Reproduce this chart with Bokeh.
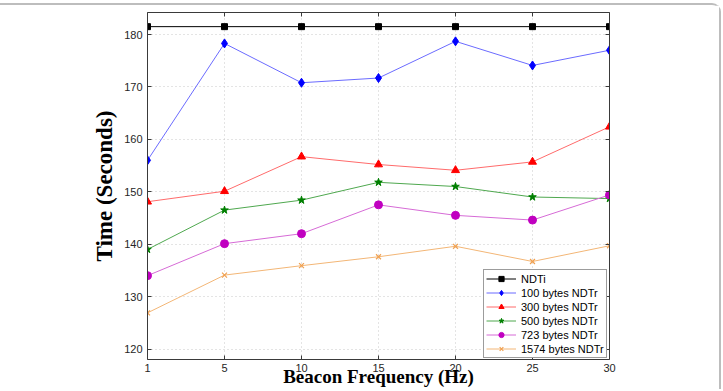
from bokeh.plotting import figure
from bokeh.models import (Range1d, FixedTicker, LinearAxis, Legend, LegendItem,
                          CustomLabelingPolicy)
from bokeh.embed import file_html
from bokeh.resources import INLINE

# Beacon frequencies (Hz), shown as evenly spaced categories
freq_labels = ["1", "5", "10", "15", "20", "25", "30"]

# Completion time (seconds) per scheme
ndti = [181.5, 181.5, 181.5, 181.5, 181.5, 181.5, 181.5]
ndtr_100 = [156.0, 178.3, 170.8, 171.7, 178.7, 174.1, 177.0]
ndtr_300 = [148.1, 150.1, 156.7, 155.2, 154.1, 155.7, 162.4]
ndtr_500 = [139.0, 146.5, 148.4, 151.8, 151.0, 149.0, 148.7]
ndtr_723 = [134.0, 140.1, 142.0, 147.5, 145.5, 144.6, 149.4]
ndtr_1574 = [126.9, 134.1, 135.9, 137.6, 139.6, 136.7, 139.7]

y_ticks = [120, 130, 140, 150, 160, 170, 180]

xs = list(range(len(freq_labels)))

p = figure(width=721, height=386, output_backend="svg", toolbar_location=None,
           x_range=Range1d(0, len(freq_labels) - 1), y_range=Range1d(118.0, 184.2),
           min_border_left=147, min_border_right=112, min_border_top=7,
           min_border_bottom=32, background_fill_color="white",
           border_fill_color="white", outline_line_color=None)
p.styles = {"margin-top": "3px", "border-top": "2px solid #bdbdbd",
            "border-right": "2px solid #bdbdbd", "border-top-right-radius": "9px"}

axis_color = "#3a3a3a"
tick_font = "Liberation Sans"

for ax in (p.xaxis[0], p.yaxis[0]):
    ax.axis_line_color = axis_color
    ax.major_tick_line_color = axis_color
    ax.major_tick_in = 4
    ax.major_tick_out = 0
    ax.minor_tick_line_color = None
    ax.major_label_text_font = tick_font
    ax.major_label_text_font_size = "11px"
    ax.major_label_text_color = "#262626"
    ax.axis_label_text_font = "Liberation Serif"
    ax.axis_label_text_font_style = "bold"
    ax.axis_label_text_color = "black"

p.xaxis[0].ticker = FixedTicker(ticks=xs)
p.xaxis[0].major_label_overrides = {i: t for i, t in enumerate(freq_labels)}
p.xaxis[0].major_label_standoff = 4
p.xaxis[0].axis_label = "Beacon Frequency (Hz)"
p.xaxis[0].axis_label_text_font_size = "19px"
p.xaxis[0].axis_label_standoff = -9

p.yaxis[0].ticker = FixedTicker(ticks=y_ticks)
p.yaxis[0].major_label_standoff = 5
p.yaxis[0].axis_label = "Time (Seconds)"
p.yaxis[0].axis_label_text_font_size = "23px"
p.yaxis[0].axis_label_standoff = 4

# mirrored box axes on top and right: inward ticks, no labels
no_labels = CustomLabelingPolicy(code="return new Set()")
mirror = dict(major_label_policy=no_labels, major_label_text_font_size="0px",
              major_label_standoff=0, major_tick_in=4, major_tick_out=0,
              minor_tick_line_color=None, axis_line_color=axis_color,
              major_tick_line_color=axis_color)
top_axis = LinearAxis(ticker=FixedTicker(ticks=xs), **mirror)
right_axis = LinearAxis(ticker=FixedTicker(ticks=y_ticks), **mirror)
p.add_layout(top_axis, "above")
p.add_layout(right_axis, "right")

p.xgrid.ticker = FixedTicker(ticks=xs)
p.ygrid.ticker = FixedTicker(ticks=y_ticks)
for g in (p.xgrid[0], p.ygrid[0]):
    g.grid_line_color = "#c8c8c8"
    g.grid_line_dash = "1 3"
    g.grid_line_width = 1

series = [
    ("NDTi", ndti, "#000000", "#000000", "square", 6),
    ("100 bytes NDTr", ndtr_100, "#6b6bff", "#0000ff", "diamond", 9),
    ("300 bytes NDTr", ndtr_300, "#ff6b6b", "#ff0000", "triangle", 8),
    ("500 bytes NDTr", ndtr_500, "#4fa84f", "#007f00", "star", 8),
    ("723 bytes NDTr", ndtr_723, "#d66bd6", "#c000c0", "circle", 8),
    ("1574 bytes NDTr", ndtr_1574, "#f3b676", "#f0a050", "x", 7),
]

items = []
for name, ys, lcol, mcol, marker, size in series:
    ln = p.line(xs, ys, line_color=lcol, line_width=1)
    if marker == "x":
        sc = p.scatter(xs, ys, marker=marker, size=size, line_color=mcol, line_width=1.2)
    else:
        sc = p.scatter(xs, ys, marker=marker, size=size, fill_color=mcol,
                       line_color=mcol, line_width=1)
    items.append(LegendItem(label=name, renderers=[ln, sc]))

legend = Legend(items=items, location=(336, 1), orientation="vertical",
                label_text_font=tick_font, label_text_font_size="11px",
                label_text_color="black", label_height=13, glyph_height=13,
                glyph_width=30, label_standoff=5, spacing=1, padding=2, margin=0,
                border_line_color=axis_color, border_line_width=1,
                background_fill_color="white", background_fill_alpha=1)
p.add_layout(legend, "center")

open("out.html", "w").write(file_html(p, INLINE))
